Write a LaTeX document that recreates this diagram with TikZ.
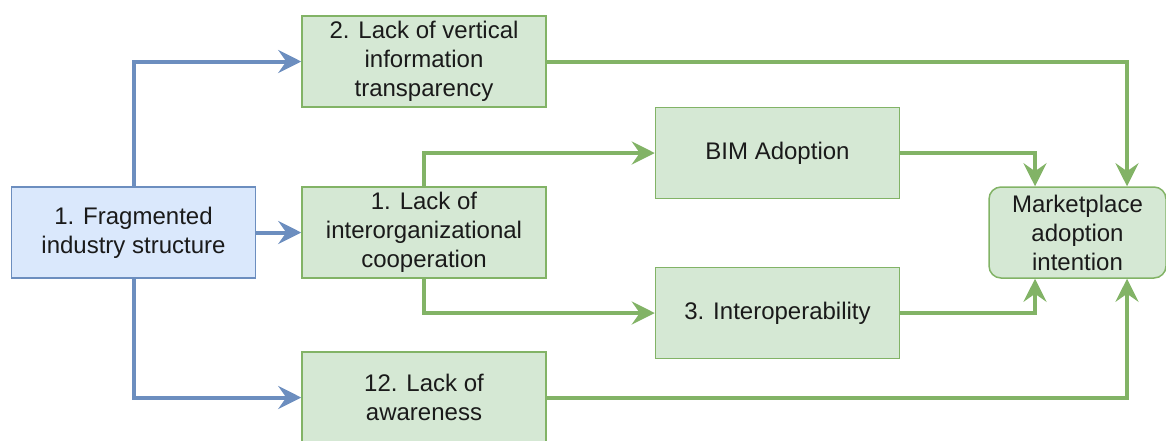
\documentclass[tikz,border=0pt]{standalone}
\usepackage{fontspec}
\setmainfont{Liberation Sans}
\usetikzlibrary{arrows.meta}
\definecolor{bluefill}{HTML}{DAE8FC}
\definecolor{blueline}{HTML}{6C8EBF}
\definecolor{greenfill}{HTML}{D5E8D4}
\definecolor{greenline}{HTML}{82B366}
\definecolor{textcol}{HTML}{1A1A1A}
\begin{document}
\begin{tikzpicture}[x=1pt,y=-1pt,
  box/.style={draw, line width=1.5pt, minimum width=244pt, minimum height=91pt,
    align=center, font=\fontsize{24}{29}\selectfont, text=textcol, inner sep=0pt},
  bluebox/.style={box, draw=blueline, fill=bluefill},
  greenbox/.style={box, draw=greenline, fill=greenfill},
  link/.style={line width=4pt, -{Stealth[length=23pt,width=23pt,inset=8pt]}},
  bluelink/.style={link, draw=blueline},
  greenlink/.style={link, draw=greenline}]
\useasboundingbox (0,0) rectangle (1166,440);

% factor boxes
\node[bluebox] (frag) at (133.5,232.5) {1. Fragmented\\industry structure};
\node[greenbox] (vert) at (424,61.5) {2. Lack of vertical\\information\\transparency};
\node[greenbox] (coop) at (424,232.5) {1. Lack of\\interorganizational\\cooperation};
\node[greenbox] (aware) at (424,397.5) {12. Lack of\\awareness};
\node[greenbox] (bim) at (777.5,153) {BIM Adoption};
\node[greenbox] (inter) at (777.5,313) {3. Interoperability};
\node[greenbox, rounded corners=12pt, minimum width=177pt] (mkt) at (1077.5,232.5)
  {Marketplace\\adoption\\intention};

% turning points of the elbow connectors
\coordinate (mktA) at (1035,232.5);
\coordinate (mktB) at (1127,232.5);

% fragmentation drives the three barriers
\draw[bluelink] (frag.north) |- (vert.west);
\draw[bluelink] (frag.east) -- (coop.west);
\draw[bluelink] (frag.south) |- (aware.west);

% cooperation feeds BIM and interoperability
\draw[greenlink] (coop.north) |- (bim.west);
\draw[greenlink] (coop.south) |- (inter.west);

% everything converges on the adoption intention
\draw[greenlink] (vert.east) -| (mktB |- mkt.north);
\draw[greenlink] (bim.east) -| (mktA |- mkt.north);
\draw[greenlink] (inter.east) -| (mktA |- mkt.south);
\draw[greenlink] (aware.east) -| (mktB |- mkt.south);
\end{tikzpicture}
\end{document}
